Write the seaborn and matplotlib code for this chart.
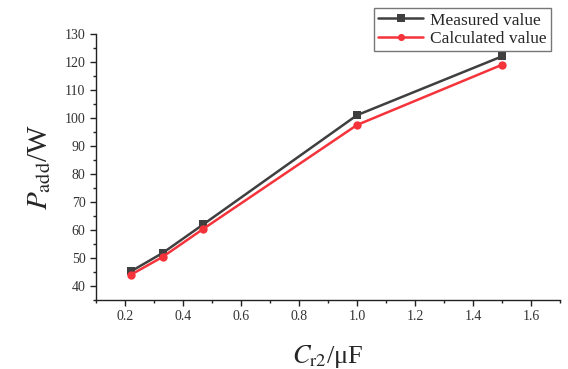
import matplotlib.pyplot as plt
from matplotlib.ticker import MultipleLocator
import seaborn as sns
import pandas as pd

sns.set_theme(style="ticks")
plt.rcParams['font.family'] = ['Liberation Serif', 'DejaVu Serif']
plt.rcParams['mathtext.fontset'] = 'stix'

# capacitance C_r2 [uF]
cr2 = [0.22, 0.33, 0.47, 1.0, 1.5]
measured = [45.2, 51.8, 62.0, 101.0, 122.0]
calculated = [44.0, 50.4, 60.4, 97.5, 119.0]

df = pd.DataFrame({
    "cr2": cr2 * 2,
    "p": measured + calculated,
    "kind": ["Measured value"] * len(cr2) + ["Calculated value"] * len(cr2),
})

fig = plt.figure(figsize=(5.68, 3.69), dpi=100)
ax = fig.add_axes([0.169, 0.187, 0.817, 0.721])

sns.lineplot(data=df, x="cr2", y="p", hue="kind", style="kind",
             markers={"Measured value": "s", "Calculated value": "o"},
             dashes=False, palette={"Measured value": "#3f3f3f", "Calculated value": "#f5333a"},
             linewidth=1.8, markersize=6, markeredgewidth=0, ax=ax)

ax.set_xlim(0.1, 1.7)
ax.set_ylim(35, 130)
ax.xaxis.set_minor_locator(MultipleLocator(0.1))
ax.yaxis.set_minor_locator(MultipleLocator(5))
ax.set_xticks([0.2, 0.4, 0.6, 0.8, 1.0, 1.2, 1.4, 1.6])
ax.set_xticklabels(["0.2", "0.4", "0.6", "0.8", "1.0", "1.2", "1.4", "1.6"])
ax.set_yticks(range(40, 131, 10))
ax.tick_params(which="major", length=4, width=1, labelsize=10, color="#222222", labelcolor="#333333")
ax.tick_params(which="minor", length=2, width=1, color="#222222")

for side in ["top", "right"]:
    ax.spines[side].set_visible(False)
for side in ["left", "bottom"]:
    ax.spines[side].set_linewidth(1.0)
    ax.spines[side].set_color("#222222")

ax.set_xlabel(r"$C_{\rm r2}$/μF", fontsize=19, labelpad=14)
ax.set_ylabel(r"$P_{\rm add}$/W", fontsize=21, labelpad=8)

leg = ax.legend(loc="upper right", bbox_to_anchor=(1.0, 1.13),
                frameon=True, fancybox=False, edgecolor="#555555",
                handlelength=2.6, borderpad=0.25, labelspacing=0.12, handletextpad=0.4,
                markerscale=0.85, prop={"size": 12.5})
leg.get_frame().set_linewidth(1.0)

fig.savefig("out.png", dpi=100)
